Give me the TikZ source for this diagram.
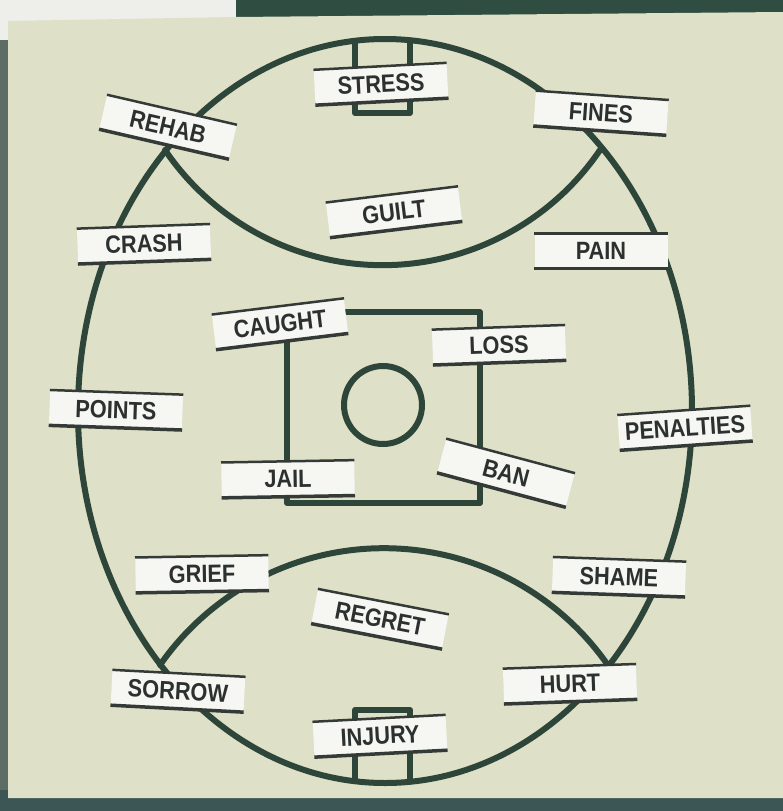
\documentclass[tikz,border=0pt]{standalone}
\usepackage{fontspec}
\newfontfamily\lblfont[FakeStretch=0.87]{Liberation Sans Bold}
\definecolor{board}{HTML}{DEE0C8}
\definecolor{bgwhite}{HTML}{EEEFEA}
\definecolor{topgreen}{HTML}{2F4D41}
\definecolor{leftgray}{HTML}{5E6C66}
\definecolor{bottomteal}{HTML}{3B5654}
\definecolor{linec}{HTML}{2E463A}
\definecolor{labelwhite}{HTML}{F6F6F3}
\definecolor{edgec}{HTML}{343B37}
\definecolor{textc}{HTML}{2C312F}
\tikzset{
  fieldline/.style={draw=linec, line width=6pt, line join=round, line cap=round},
  lbl/.style={fill=labelwhite, minimum width=133pt, minimum height=35pt, inner sep=0pt,
    font=\lblfont\fontsize{25}{25}\selectfont, text=textc,
    append after command={
      (\tikzlastnode.north west) edge[edgec, line width=2.5pt] (\tikzlastnode.north east)
      (\tikzlastnode.south west) edge[edgec, line width=3.5pt] (\tikzlastnode.south east)
    }}
}
\begin{document}
\begin{tikzpicture}[x=1pt,y=-1pt]
\useasboundingbox (0,0) rectangle (783,811);
% surroundings
\fill[bgwhite] (0,0) rectangle (783,811);
\fill[topgreen] (236,0) rectangle (783,20);
\fill[leftgray] (0,40) rectangle (12,811);
\fill[bottomteal] (0,790) rectangle (783,811);
\fill[board] (8,21) -- (236,17) -- (783,12) -- (783,798) -- (8,798) -- cycle;
% field markings
\draw[fieldline] (385,411) ellipse [x radius=307, y radius=372];
\draw[fieldline] (165,150) arc[start angle=145.8, end angle=34.2, radius=263];
\draw[fieldline] (160,665) arc[start angle=214.9, end angle=325.1, radius=273];
\draw[fieldline] (287,312) rectangle (480,503);
\draw[fieldline] (383,405) circle[radius=39];
\draw[fieldline] (355,42) -- (355,113) -- (410,113) -- (410,42);
\draw[fieldline] (355,781) -- (355,710) -- (410,710) -- (410,781);
% labels
\node[lbl, rotate=3]   (stress)    at (381,84)  {STRESS};
\node[lbl, rotate=-4]  (fines)     at (601,113) {FINES};
\node[lbl, rotate=-13] (rehab)     at (168,127) {REHAB};
\node[lbl, rotate=7]   (guilt)     at (394,212) {GUILT};
\node[lbl, rotate=2]   (crash)     at (144,244) {CRASH};
\node[lbl, rotate=0]   (pain)      at (601,251) {PAIN};
\node[lbl, rotate=7]   (caught)    at (280,324) {CAUGHT};
\node[lbl, rotate=2]   (loss)      at (499,345) {LOSS};
\node[lbl, rotate=-2]  (points)    at (116,410) {POINTS};
\node[lbl, rotate=4]   (penalties) at (685,428) {PENALTIES};
\node[lbl, rotate=1]   (jail)      at (288,479) {JAIL};
\node[lbl, rotate=-15] (ban)       at (506,473) {BAN};
\node[lbl, rotate=1]   (grief)     at (202,574) {GRIEF};
\node[lbl, rotate=-2]  (shame)     at (619,577) {SHAME};
\node[lbl, rotate=-11] (regret)    at (380,619) {REGRET};
\node[lbl, rotate=-3]  (sorrow)    at (178,691) {SORROW};
\node[lbl, rotate=2]   (hurt)      at (570,684) {HURT};
\node[lbl, rotate=3]   (injury)    at (380,736) {INJURY};
\end{tikzpicture}
\end{document}
